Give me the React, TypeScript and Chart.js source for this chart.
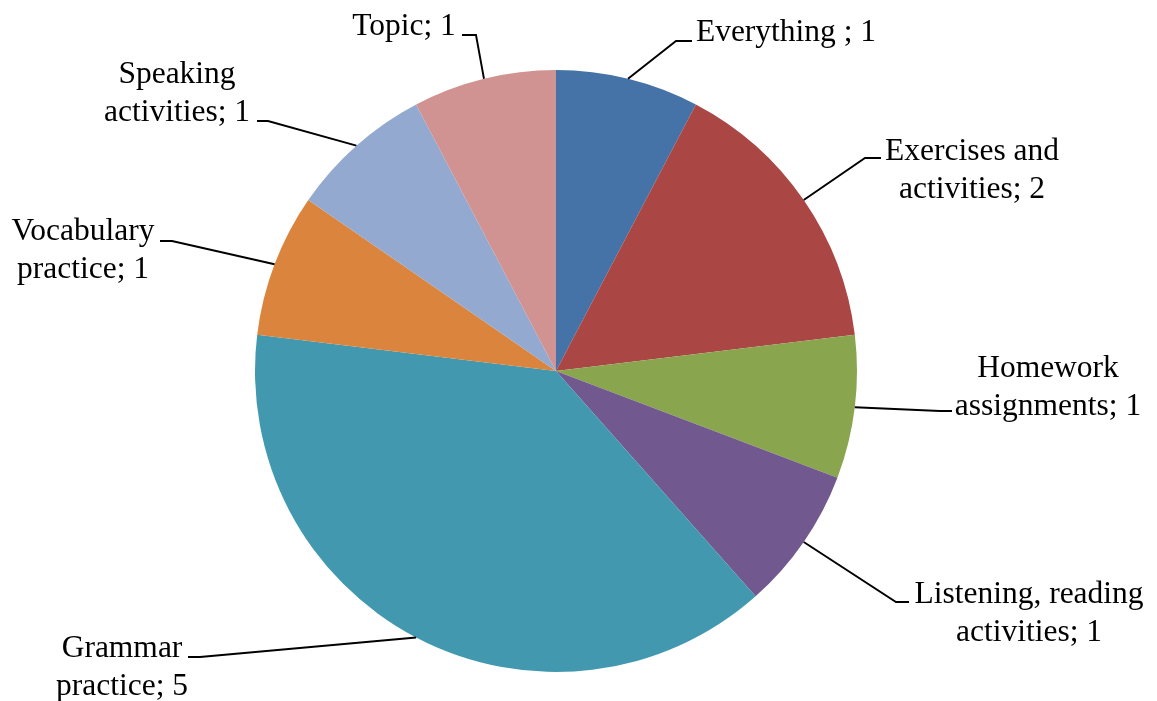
import React, { useEffect, useRef } from "react";
import { Chart, registerables } from "chart.js";

Chart.register(...registerables);

// ---- data ----
const categories: string[] = [
  "Everything ",
  "Exercises and\nactivities",
  "Homework\nassignments",
  "Listening, reading\nactivities",
  "Grammar\npractice",
  "Vocabulary\npractice",
  "Speaking\nactivities",
  "Topic",
];
const values: number[] = [1, 2, 1, 1, 5, 1, 1, 1];
const colors: string[] = [
  "#4572A7",
  "#AA4643",
  "#89A54E",
  "#71588F",
  "#4198AF",
  "#DB843D",
  "#93A9CF",
  "#D19392",
];

// ---- label layout (canvas px): text centre x, first baseline y ----
const labelCenterX: number[] = [786, 972, 1048, 1029, 122, 83, 177, 404];
const labelBaseY: number[] = [41, 160, 377, 603, 657, 240, 83, 35];
// leader elbow and end of the horizontal segment
const elbowX: number[] = [676, 865, 940, 896, 200, 172, 268, 476];
const elbowY: number[] = [41, 158, 411, 602, 657, 241, 121, 35];
const leaderEndX: number[] = [692, 881, 952, 909, 188, 160, 257, 462];

const LINE_HEIGHT = 37.5;
const FONT = '31.5px "Liberation Serif", "Times New Roman", serif';

const labelPlugin = {
  id: "pieLabels",
  afterDraw(chart: any) {
    const ctx = chart.ctx as CanvasRenderingContext2D;
    const meta = chart.getDatasetMeta(0);
    ctx.save();
    meta.data.forEach((arc: any, i: number) => {
      const { x, y, startAngle, endAngle, outerRadius } = arc.getProps(
        ["x", "y", "startAngle", "endAngle", "outerRadius"],
        true
      );
      const mid = (startAngle + endAngle) / 2;
      const ax = x + Math.cos(mid) * outerRadius;
      const ay = y + Math.sin(mid) * outerRadius;
      ctx.strokeStyle = "#000000";
      ctx.lineWidth = 1.9;
      ctx.beginPath();
      ctx.moveTo(ax, ay);
      ctx.lineTo(elbowX[i], elbowY[i]);
      ctx.lineTo(leaderEndX[i], elbowY[i]);
      ctx.stroke();

      const text = `${categories[i]}; ${values[i]}`;
      const lines = text.split("\n");
      ctx.fillStyle = "#000000";
      ctx.font = FONT;
      ctx.textAlign = "center";
      ctx.textBaseline = "alphabetic";
      lines.forEach((ln, k) => {
        ctx.fillText(ln, labelCenterX[i], labelBaseY[i] + k * LINE_HEIGHT);
      });
    });
    ctx.restore();
  },
};

export default function App() {
  const ref = useRef<HTMLCanvasElement | null>(null);
  useEffect(() => {
    document.body.style.margin = "0";
    if (!ref.current) return;
    const chart = new Chart(ref.current, {
      type: "pie",
      data: {
        labels: categories.map((c) => c.replace("\n", " ")),
        datasets: [
          {
            data: values,
            backgroundColor: colors,
            borderWidth: 0,
          },
        ],
      },
      options: {
        responsive: false,
        animation: false,
        layout: { padding: { left: 255, right: 300, top: 70, bottom: 29 } },
        plugins: {
          legend: { display: false },
          tooltip: { enabled: false },
        },
      },
      plugins: [labelPlugin],
    });
    return () => chart.destroy();
  }, []);
  return (
    <div style={{ position: "absolute", left: 0, top: 0, width: 1157, height: 701, background: "#fff" }}>
      <canvas ref={ref} width={1157} height={701} />
    </div>
  );
}
